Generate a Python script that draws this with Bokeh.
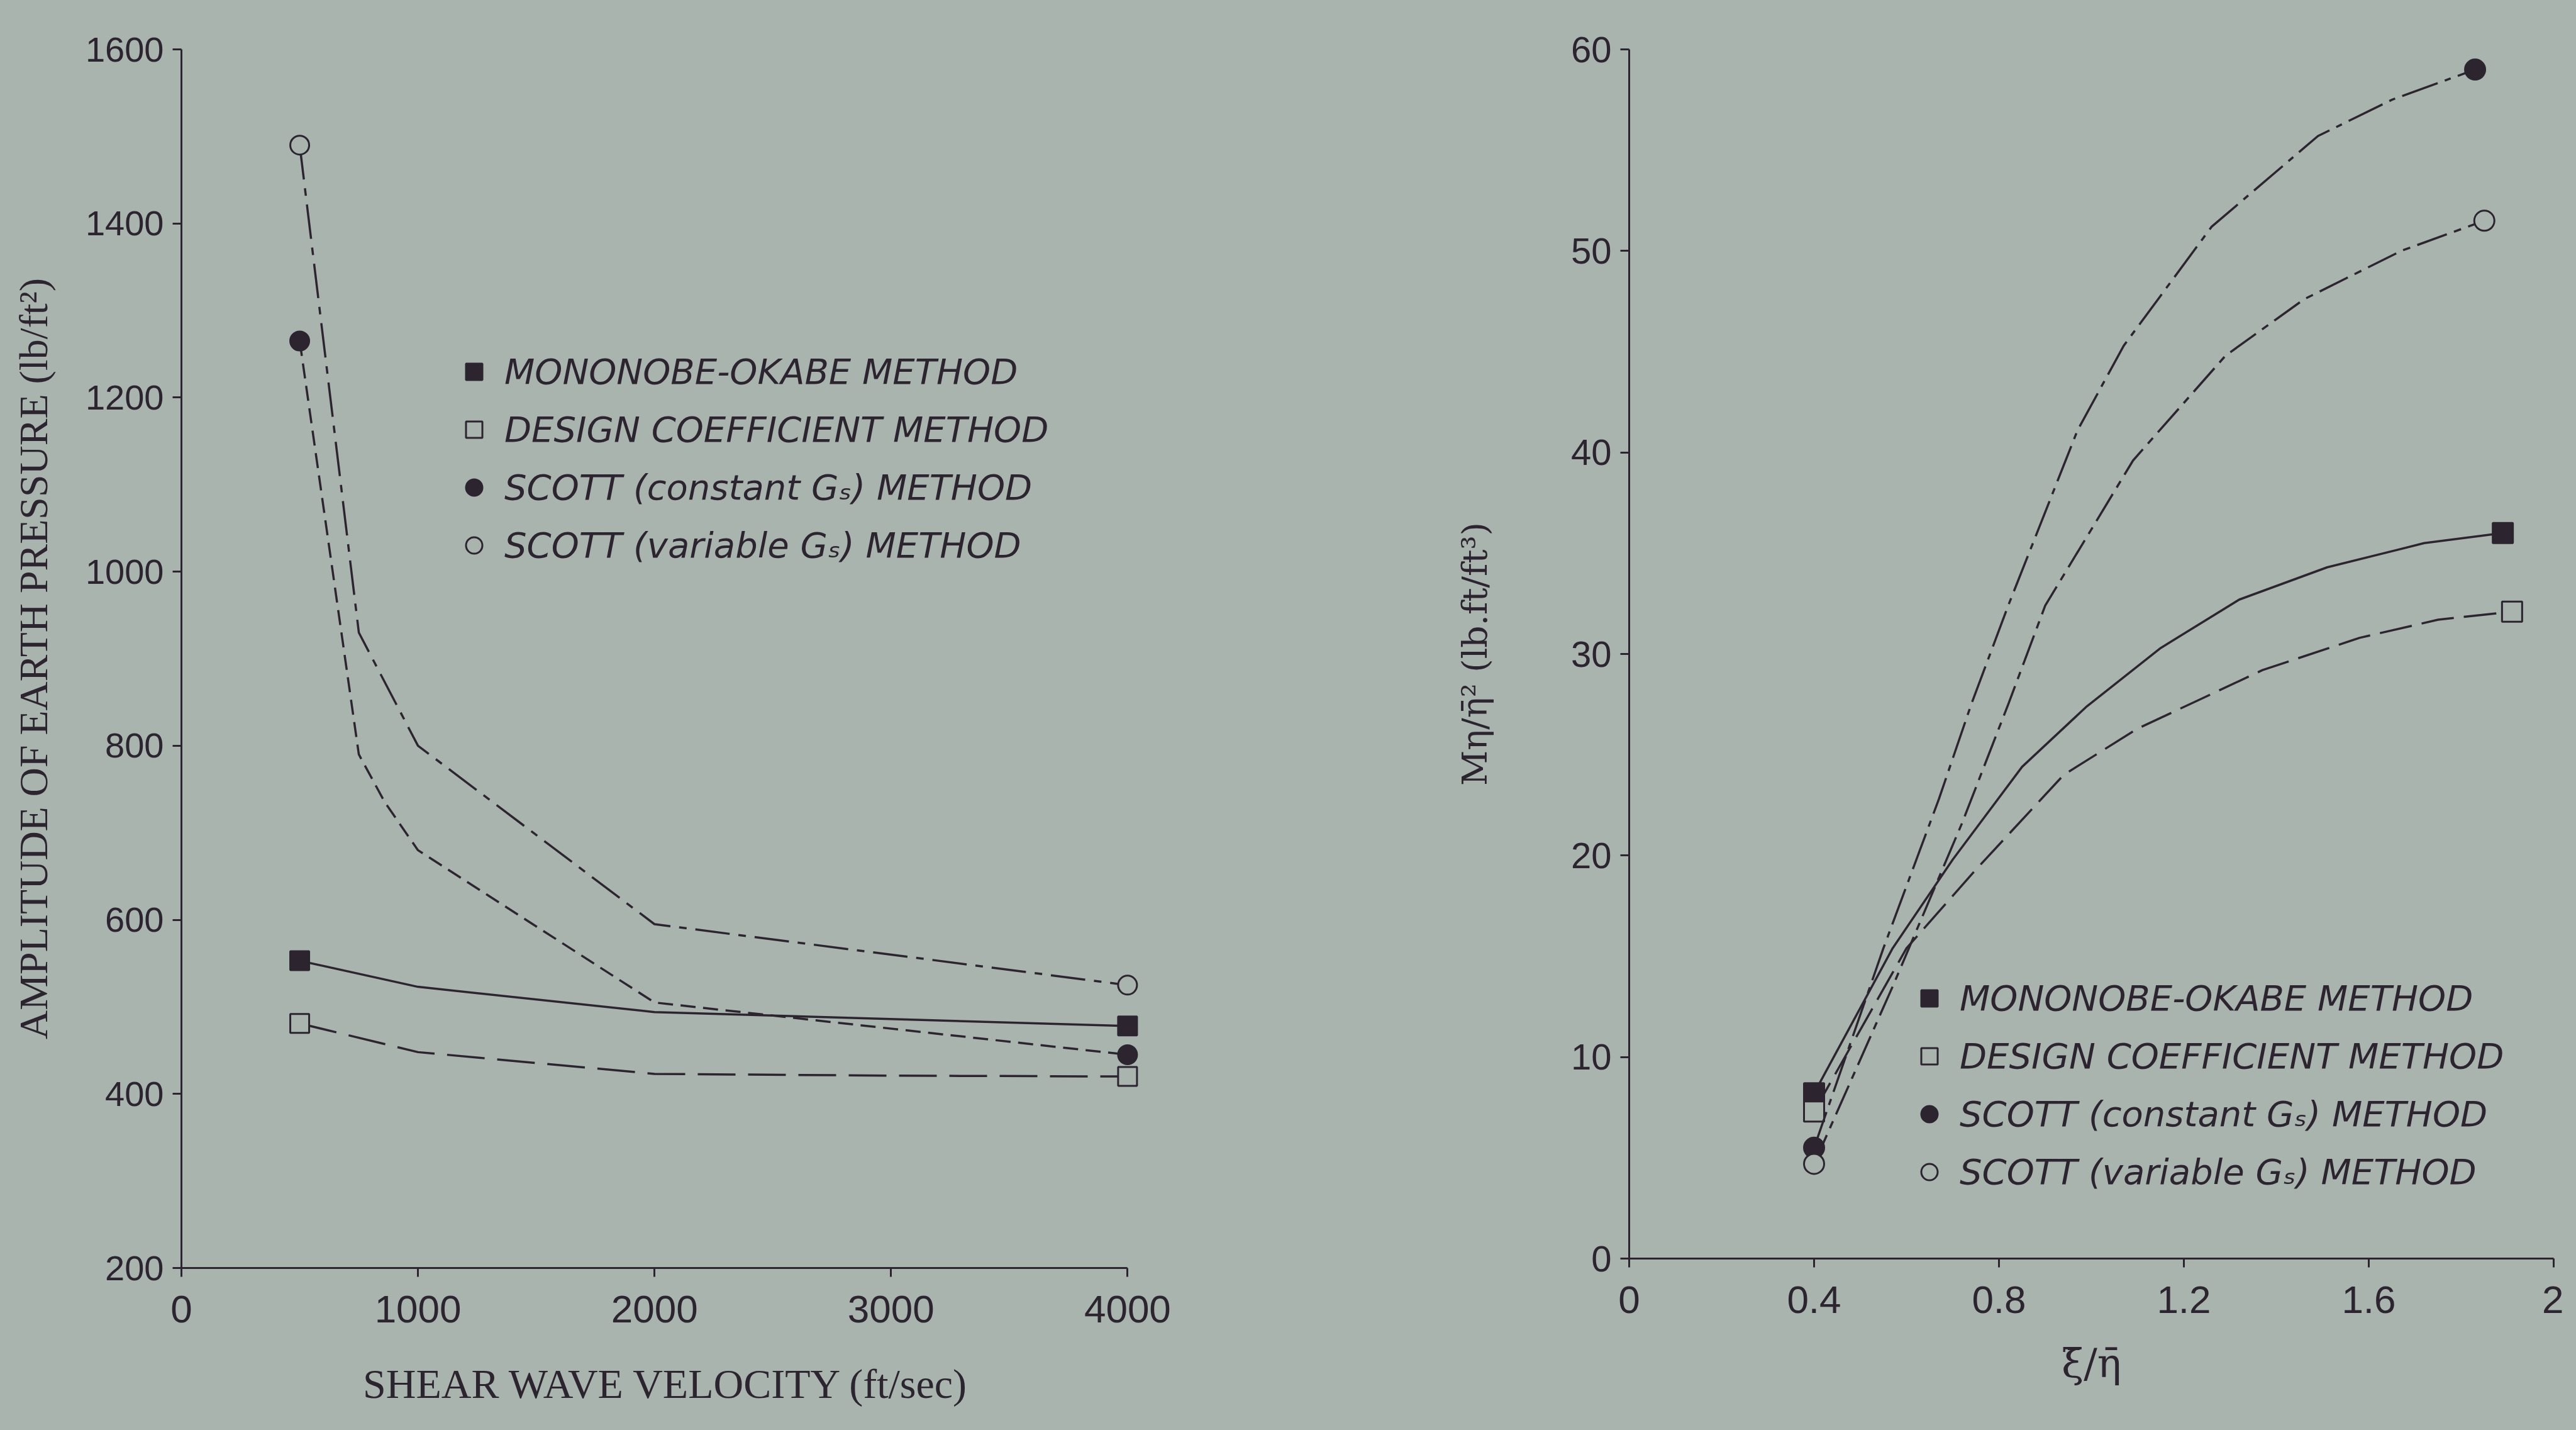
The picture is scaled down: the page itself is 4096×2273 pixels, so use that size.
from bokeh.plotting import figure
from bokeh.layouts import row
from bokeh.models import Range1d, FixedTicker, Legend, LegendItem, CustomJSTickFormatter
from bokeh.embed import file_html
from bokeh.resources import INLINE

# ---------------- data: left panel (amplitude vs shear wave velocity) ----------------
vel_mo = [500, 1000, 2000, 4000]
amp_mo = [553, 523, 494, 478]
vel_dc = [500, 1000, 2000, 3000, 4000]
amp_dc = [481, 448, 423, 421, 420]
vel_sc = [500, 750, 860, 1000, 2000, 4000]
amp_sc = [1265, 790, 735, 680, 505, 445]
vel_sv = [500, 750, 1000, 2000, 4000]
amp_sv = [1490, 930, 800, 595, 525]
left_xticks = [0, 1000, 2000, 3000, 4000]
left_yticks = [200, 400, 600, 800, 1000, 1200, 1400, 1600]

# ---------------- data: right panel (M/eta^2 vs xi/eta) ----------------
xi_mo = [0.4, 0.57, 0.70, 0.85, 0.99, 1.15, 1.32, 1.51, 1.72, 1.89]
m_mo = [8.2, 15.4, 19.8, 24.4, 27.4, 30.3, 32.7, 34.3, 35.5, 36.0]
xi_dc = [0.4, 0.60, 0.75, 0.94, 1.10, 1.24, 1.37, 1.58, 1.75, 1.91]
m_dc = [7.3, 15.4, 19.3, 24.0, 26.3, 27.8, 29.2, 30.8, 31.7, 32.1]
xi_sc = [0.4, 0.55, 0.67, 0.74, 0.82, 0.97, 1.07, 1.26, 1.49, 1.65, 1.83]
m_sc = [5.5, 15.4, 22.8, 27.5, 32.4, 41.1, 45.3, 51.2, 55.7, 57.5, 59.0]
xi_sv = [0.4, 0.57, 0.72, 0.82, 0.90, 1.09, 1.29, 1.46, 1.67, 1.85]
m_sv = [4.7, 13.5, 21.6, 27.5, 32.4, 39.6, 44.8, 47.6, 50.0, 51.5]
right_xticks = [0, 0.4, 0.8, 1.2, 1.6, 2.0]
right_yticks = [0, 10, 20, 30, 40, 50, 60]

labels = ["MONONOBE-OKABE METHOD", "DESIGN COEFFICIENT METHOD",
          "SCOTT (constant G\u209b) METHOD", "SCOTT (variable G\u209b) METHOD"]

BG = "#a9b4ae"
INK = "#2c2530"


def style(p, xfs, yfs):
    p.background_fill_alpha = 0
    p.border_fill_color = BG
    p.outline_line_color = None
    p.xgrid.visible = False
    p.ygrid.visible = False
    for ax in p.axis:
        ax.axis_line_color = INK
        ax.axis_line_width = 3
        ax.major_tick_line_color = INK
        ax.major_tick_line_width = 3
        ax.minor_tick_line_color = None
        ax.major_tick_out = 14
        ax.major_tick_in = 0
        ax.major_label_text_font = "Liberation Sans"
        ax.major_label_text_color = INK
        ax.axis_label_text_font = "Liberation Serif"
        ax.axis_label_text_font_style = "normal"
        ax.axis_label_text_color = INK
    p.xaxis.major_label_text_font_size = xfs
    p.yaxis.major_label_text_font_size = yfs


def series(p, xs, ys, dash, marker, filled, size):
    p.line(xs, ys, line_color=INK, line_width=3.5, line_dash=dash)
    r = p.scatter([xs[0], xs[-1]], [ys[0], ys[-1]], marker=marker, size=size,
                  line_color=INK, line_width=3,
                  fill_color=INK if filled else BG)
    return r


def make_legend(p, rs, loc):
    lg = Legend(items=[LegendItem(label=l, renderers=[r]) for l, r in zip(labels, rs)],
                location=loc, glyph_width=65, glyph_height=65, label_height=65,
                label_standoff=16, spacing=27, padding=0, margin=0,
                border_line_color=None, background_fill_alpha=0,
                label_text_font="DejaVu Sans", label_text_font_style="italic",
                label_text_font_size="56px", label_text_color=INK)
    p.add_layout(lg)


# ---------------- left figure ----------------
p1 = figure(output_backend="svg", toolbar_location=None,
            frame_width=1542, frame_height=1937,
            min_border_left=288, min_border_right=310, min_border_top=78, min_border_bottom=242,
            x_range=Range1d(0, 4100), y_range=Range1d(200, 1600))
style(p1, "62px", "56px")
p1.xaxis.bounds = (0, 4000)
p1.yaxis.bounds = (200, 1600)
p1.xaxis.ticker = FixedTicker(ticks=left_xticks)
p1.yaxis.ticker = FixedTicker(ticks=left_yticks)
p1.xaxis.axis_label = "SHEAR WAVE VELOCITY (ft/sec)"
p1.yaxis.axis_label = "AMPLITUDE OF EARTH PRESSURE (lb/ft\u00b2)"
p1.xaxis.axis_label_text_font_size = "66px"
p1.yaxis.axis_label_text_font_size = "64px"
p1.xaxis.major_label_standoff = 30
p1.yaxis.major_label_standoff = 14
p1.xaxis.axis_label_standoff = 58
p1.yaxis.axis_label_standoff = 44

r1 = series(p1, vel_mo, amp_mo, "solid", "square", True, 30)
r2 = series(p1, vel_dc, amp_dc, "60 20", "square", False, 30)
r3 = series(p1, vel_sc, amp_sc, "24 12", "circle", True, 30)
r4 = series(p1, vel_sv, amp_sv, "55 14 12 14", "circle", False, 30)
make_legend(p1, [r1, r2, r3, r4], (433, 1116))

# ---------------- right figure ----------------
p2 = figure(output_backend="svg", toolbar_location=None,
            frame_width=1470, frame_height=1922,
            min_border_left=450, min_border_right=16, min_border_top=56, min_border_bottom=279,
            x_range=Range1d(0, 2.0), y_range=Range1d(0, 60))
style(p2, "62px", "58px")
p2.xaxis.bounds = (0, 2.0)
p2.yaxis.bounds = (0, 60)
p2.xaxis.ticker = FixedTicker(ticks=right_xticks)
p2.yaxis.ticker = FixedTicker(ticks=right_yticks)
p2.xaxis.formatter = CustomJSTickFormatter(
    code="return (tick == 0 || tick == 2) ? tick.toFixed(0) : tick.toFixed(1);")
p2.xaxis.axis_label = "\u03be\u0304/\u03b7\u0304"
p2.yaxis.axis_label = "M\u03b7/\u03b7\u0304\u00b2 (lb.ft/ft\u00b3)"
p2.xaxis.axis_label_text_font = "DejaVu Serif"
p2.yaxis.axis_label_text_font = "DejaVu Serif"
p2.xaxis.axis_label_text_font_size = "64px"
p2.yaxis.axis_label_text_font_size = "55px"
p2.xaxis.major_label_standoff = 30
p2.yaxis.major_label_standoff = 14
p2.xaxis.axis_label_standoff = 40
p2.yaxis.axis_label_standoff = 118

q1 = series(p2, xi_mo, m_mo, "solid", "square", True, 32)
q2 = series(p2, xi_dc, m_dc, "52 16", "square", False, 32)
q3 = series(p2, xi_sc, m_sc, "60 12 10 12", "circle", True, 32)
q4 = series(p2, xi_sv, m_sv, "50 12 12 12", "circle", False, 32)
make_legend(p2, [q1, q2, q3, q4], (445, 105))

layout = row(p1, p2)
html = file_html(layout, INLINE)
html = html.replace("<head>", "<head><style>html, body { background: %s; }</style>" % BG, 1)
open("out.html", "w").write(html)
